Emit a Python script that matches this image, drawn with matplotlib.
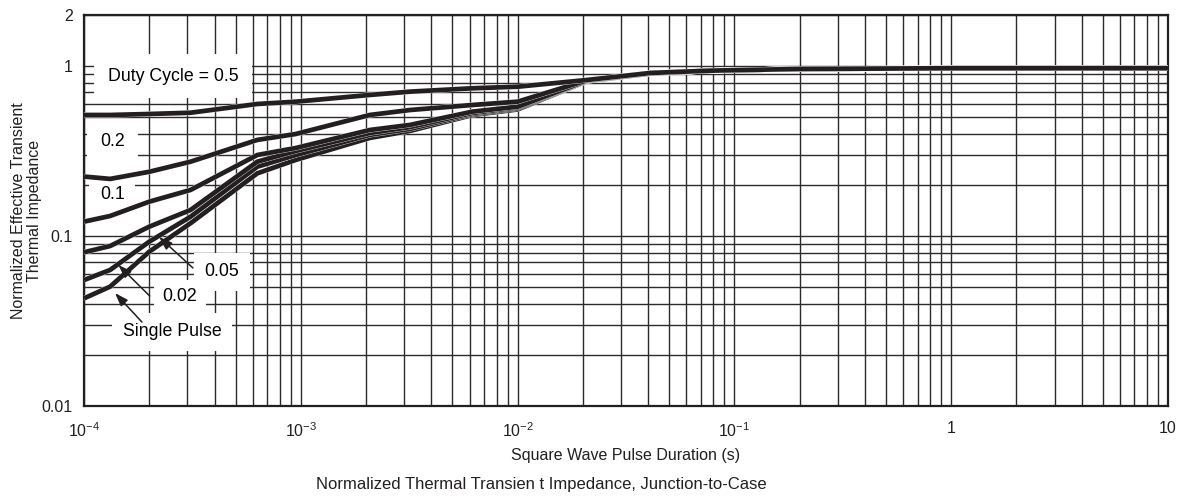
import numpy as np
import matplotlib
matplotlib.use("Agg")
import matplotlib.pyplot as plt
import matplotlib.patheffects as pe
from matplotlib.ticker import FixedLocator, NullFormatter

plt.rcParams['font.family'] = ['Liberation Sans', 'DejaVu Sans']
plt.rcParams['mathtext.default'] = 'regular'

# pulse duration (s), shared by all curves
t_pulse = [1e-4, 1.32e-4, 2.0e-4, 3.1e-4, 6.3e-4, 9.5e-4, 2.08e-3, 3.19e-3,
           6.2e-3, 1e-2, 2.09e-2, 4.1e-2, 7.8e-2, 0.2, 1, 10]

# normalized effective transient thermal impedance
z_d05 = [0.516, 0.516, 0.523, 0.532, 0.599, 0.618, 0.677, 0.708,
         0.741, 0.757, 0.829, 0.912, 0.941, 0.963, 0.972, 0.972]
z_d02 = [0.224, 0.217, 0.239, 0.274, 0.368, 0.399, 0.516, 0.552,
         0.591, 0.618, 0.825, 0.910, 0.940, 0.963, 0.972, 0.972]
z_d01 = [0.1216, 0.1313, 0.1594, 0.1868, 0.300, 0.330, 0.421, 0.451,
         0.540, 0.577, 0.822, 0.908, 0.940, 0.963, 0.972, 0.972]
z_d005 = [0.0803, 0.0874, 0.1136, 0.1424, 0.274, 0.317, 0.404, 0.438,
          0.530, 0.571, 0.820, 0.907, 0.940, 0.963, 0.972, 0.972]
z_d002 = [0.0551, 0.0632, 0.0927, 0.130, 0.256, 0.300, 0.394, 0.427,
          0.523, 0.564, 0.818, 0.906, 0.940, 0.963, 0.972, 0.972]
z_single = [0.0430, 0.0504, 0.0809, 0.119, 0.234, 0.281, 0.378, 0.416,
            0.516, 0.556, 0.816, 0.905, 0.940, 0.963, 0.972, 0.972]

curves = [z_single, z_d002, z_d005, z_d01, z_d02, z_d05]

x_major = [1e-4, 1e-3, 1e-2, 1e-1, 1, 10]
x_major_labels = ['$10^{-4}$', '$10^{-3}$', '$10^{-2}$', '$10^{-1}$', '1', '10']
y_major = [0.01, 0.1, 1, 2]
y_major_labels = ['0.01', '0.1', '1', '2']

fig = plt.figure(figsize=(11.85, 5.01), dpi=100)
ax = fig.add_axes([84 / 1185, 1 - 406 / 501, 1084 / 1185, 391 / 501])
ax.set_xscale('log')
ax.set_yscale('log')
ax.set_xlim(1e-4, 10)
ax.set_ylim(0.01, 2)

# grid: every 1..9 in each decade
x_minor = [k * 10.0 ** d for d in range(-4, 1) for k in range(2, 10)]
y_minor = [k * 10.0 ** d for d in range(-2, 0) for k in range(2, 10)]
ax.xaxis.set_major_locator(FixedLocator(x_major))
ax.xaxis.set_minor_locator(FixedLocator(x_minor))
ax.yaxis.set_major_locator(FixedLocator(y_major))
ax.yaxis.set_minor_locator(FixedLocator(y_minor))
ax.set_xticklabels(x_major_labels)
ax.set_yticklabels(y_major_labels)
ax.xaxis.set_minor_formatter(NullFormatter())
ax.yaxis.set_minor_formatter(NullFormatter())
ax.tick_params(which='both', length=0, labelsize=11.5, colors='#231f20')
ax.tick_params(axis='x', pad=11)
ax.tick_params(axis='y', pad=8)
ax.grid(True, which='both', color='#2b2b2b', linewidth=1.0)
ax.set_axisbelow(True)
for s in ax.spines.values():
    s.set_linewidth(1.6)
    s.set_color('#231f20')

for z in curves:
    ax.plot(t_pulse, z, color='#231f20', linewidth=3.4, solid_capstyle='butt',
            path_effects=[pe.Stroke(linewidth=3.8, foreground='white'), pe.Normal()],
            zorder=5)

box = dict(facecolor='white', edgecolor='none', boxstyle='square')
fs = 12.8
ax.text(2.57e-4, 0.875, 'Duty Cycle = 0.5', fontsize=fs, ha='center', va='center',
        bbox=dict(box, pad=0.75), zorder=4)
ax.text(1.35e-4, 0.358, '0.2', fontsize=fs, ha='center', va='center',
        bbox=dict(box, pad=0.75), zorder=4)
ax.text(1.35e-4, 0.1746, '0.1', fontsize=fs, ha='center', va='center',
        bbox=dict(box, pad=0.6), zorder=4)
ax.text(4.33e-4, 0.0615, '0.05', fontsize=fs, ha='center', va='center',
        bbox=dict(box, pad=0.6), zorder=4)
ax.text(2.77e-4, 0.0438, '0.02', fontsize=fs, ha='center', va='center',
        bbox=dict(box, pad=0.5), zorder=4)
ax.text(2.55e-4, 0.0273, 'Single Pulse', fontsize=fs, ha='center', va='center',
        bbox=dict(box, pad=0.6), zorder=4)

arrow = dict(arrowstyle='-|>,head_length=0.8,head_width=0.28', color='#231f20',
             linewidth=1.1, shrinkA=0, shrinkB=0)
ax.annotate('', xy=(2.22e-4, 0.0988), xytext=(3.18e-4, 0.0649), arrowprops=arrow, zorder=6)
ax.annotate('', xy=(1.44e-4, 0.0676), xytext=(2.01e-4, 0.0444), arrowprops=arrow, zorder=6)
ax.annotate('', xy=(1.39e-4, 0.0462), xytext=(1.85e-4, 0.0312), arrowprops=arrow, zorder=6)

ax.set_xlabel('Square Wave Pulse Duration (s)', fontsize=11.5, color='#231f20', labelpad=6)
ax.set_ylabel('Normalized Effective Transient\nThermal Impedance', fontsize=11.5,
              color='#231f20', linespacing=1.1)
# anchor is the right-hand edge of the rotated two-line block
ax.yaxis.set_label_coords(-0.0387, 0.5)
fig.text(541 / 1185, 1 - 484 / 501, 'Normalized Thermal Transien t Impedance, Junction-to-Case',
         fontsize=12, ha='center', va='center', color='#231f20')

fig.savefig('out.png', dpi=100)
